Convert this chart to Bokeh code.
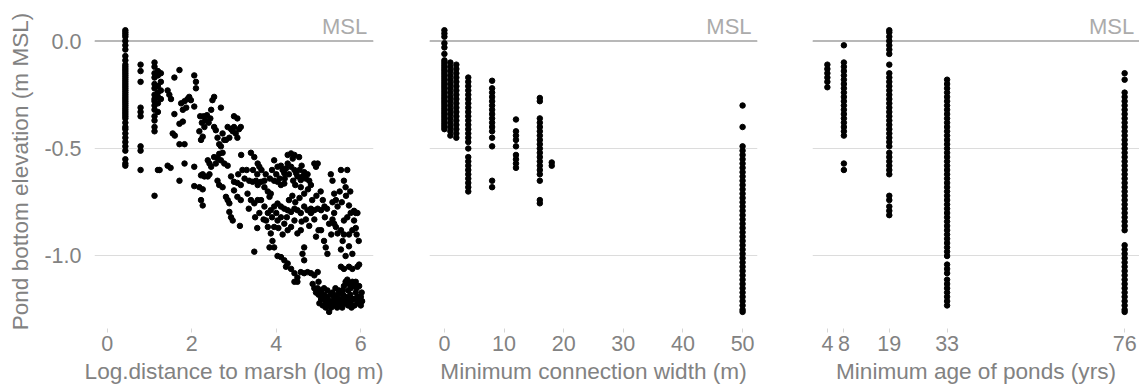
from bokeh.plotting import figure
from bokeh.layouts import row
from bokeh.models import Range1d, FixedTicker, PrintfTickFormatter, Span, Label
from bokeh.embed import file_html
from bokeh.resources import INLINE

# ---------------- Panel 1: log distance to marsh ----------------
col043_elev = [0.05, 0.04, 0.03, 0.02, 0.0, -0.02, -0.04, -0.07, -0.09, -0.11, -0.12, -0.13,
               -0.14, -0.15, -0.16, -0.17, -0.18, -0.19, -0.2, -0.21, -0.22, -0.23, -0.24,
               -0.25, -0.26, -0.27, -0.28, -0.29, -0.3, -0.31, -0.32, -0.33, -0.34, -0.35,
               -0.36, -0.38, -0.4, -0.41, -0.43, -0.45, -0.47, -0.49, -0.51, -0.55, -0.57, -0.58]
col079_elev = [-0.11, -0.14, -0.19, -0.31, -0.33, -0.35, -0.49, -0.51, -0.6]
col112_elev = [-0.1, -0.12, -0.15, -0.17, -0.2, -0.22, -0.25, -0.27, -0.28, -0.3, -0.32,
               -0.35, -0.37, -0.4, -0.42, -0.72]
col120_elev = [-0.14, -0.16, -0.21, -0.24, -0.26, -0.29, -0.33, -0.6]
col127_elev = [-0.15, -0.19, -0.23, -0.27]

dist_points = [
    (1.43, -0.23), (1.47, -0.25), (1.51, -0.27), (1.59, -0.17), (1.71, -0.135), (1.59, -0.34),
    (1.55, -0.43), (1.6, -0.44), (1.75, -0.29), (1.79, -0.32), (1.83, -0.28), (1.87, -0.31),
    (1.9, -0.27), (1.71, -0.385), (1.79, -0.375), (1.71, -0.48), (1.83, -0.48), (1.43, -0.58),
    (1.5, -0.59), (1.24, -0.6), (1.71, -0.65), (1.83, -0.57), (2.06, -0.16), (2.1, -0.19),
    (2.1, -0.22), (1.94, -0.26), (1.98, -0.275), (2.06, -0.305), (2.06, -0.585), (2.06, -0.675),
    (2.2, -0.35), (2.28, -0.35), (2.32, -0.37), (2.36, -0.345), (2.4, -0.38), (2.44, -0.36),
    (2.24, -0.38), (2.3, -0.4), (2.18, -0.42), (2.26, -0.445), (2.22, -0.46), (2.53, -0.26),
    (2.49, -0.275), (2.46, -0.32), (2.53, -0.4), (2.57, -0.415), (2.61, -0.45), (2.65, -0.48),
    (2.69, -0.31), (2.73, -0.43), (2.77, -0.46), (2.69, -0.49), (2.73, -0.52), (2.85, -0.4),
    (2.93, -0.41), (3.0, -0.4), (2.97, -0.42), (3.04, -0.43), (3.12, -0.41), (3.16, -0.4),
    (3.08, -0.45), (3.0, -0.35), (3.08, -0.36), (2.89, -0.45), (2.81, -0.46),
    (2.26, -0.62), (2.3, -0.63), (2.22, -0.625), (2.38, -0.555), (2.42, -0.57), (2.46, -0.585),
    (2.53, -0.54), (2.61, -0.545), (2.57, -0.57), (2.65, -0.525), (2.69, -0.555), (2.77, -0.57),
    (2.85, -0.58), (2.18, -0.68), (2.26, -0.69), (2.22, -0.74), (2.26, -0.765), (2.42, -0.62),
    (2.38, -0.63), (2.61, -0.65), (2.65, -0.67), (2.73, -0.68), (2.81, -0.725), (2.85, -0.74),
    (2.89, -0.755), (2.93, -0.63), (3.0, -0.655), (3.08, -0.66), (3.16, -0.67), (2.89, -0.795),
    (2.93, -0.82), (2.97, -0.835), (3.14, -0.86), (3.17, -0.53), (3.0, -0.695), (3.08, -0.725),
    (3.16, -0.74),
    (3.4, -0.52), (3.48, -0.54), (3.56, -0.57), (3.6, -0.585), (3.36, -0.65), (3.44, -0.655),
    (3.52, -0.65), (3.56, -0.67), (3.64, -0.655), (3.72, -0.65), (3.32, -0.71), (3.4, -0.74),
    (3.48, -0.755), (3.56, -0.74), (3.48, -0.98), (3.72, -0.68), (3.8, -0.7), (3.84, -0.725),
    (3.87, -0.71), (3.95, -0.555), (4.03, -0.585), (4.11, -0.58), (4.15, -0.6), (4.19, -0.615),
    (4.23, -0.593), (4.27, -0.57), (4.35, -0.585), (4.39, -0.547), (4.43, -0.6), (4.47, -0.615),
    (4.5, -0.63), (4.58, -0.647), (4.62, -0.63), (4.66, -0.61), (3.95, -0.65), (4.03, -0.655),
    (4.11, -0.67), (4.19, -0.663), (4.27, -0.53), (4.35, -0.523), (4.43, -0.53), (4.54, -0.54),
    (3.64, -0.74), (3.72, -0.77), (3.8, -0.8), (3.87, -0.787), (3.95, -0.77), (4.03, -0.756),
    (4.11, -0.77), (4.19, -0.78), (4.27, -0.787), (4.35, -0.795), (4.43, -0.78), (4.5, -0.787),
    (4.58, -0.8), (4.66, -0.77), (4.74, -0.787), (4.82, -0.78), (4.9, -0.787), (4.98, -0.78),
    (5.06, -0.787), (3.76, -0.835), (3.8, -0.865), (3.87, -0.895), (3.91, -0.93), (3.84, -0.96),
    (3.95, -0.96), (3.95, -0.865), (4.03, -0.835), (4.11, -0.82), (4.19, -0.85), (4.27, -0.88),
    (4.35, -0.865), (4.43, -0.835), (4.5, -0.895), (4.58, -0.88),
    (3.1, -0.62), (3.2, -0.6), (3.25, -0.64), (3.3, -0.6), (3.45, -0.6), (3.55, -0.62),
    (3.65, -0.6), (3.75, -0.62), (3.85, -0.64), (3.9, -0.6), (4.0, -0.62), (4.08, -0.64),
    (4.2, -0.64), (4.3, -0.62), (4.4, -0.65), (4.45, -0.67), (4.55, -0.6), (4.6, -0.58),
    (4.7, -0.64), (4.75, -0.69), (3.6, -0.8), (3.7, -0.83), (3.9, -0.82), (4.0, -0.8),
    (4.05, -0.87), (4.15, -0.9), (4.25, -0.82), (4.3, -0.74), (4.38, -0.72), (4.45, -0.75),
    (4.55, -0.73), (4.6, -0.84), (4.7, -0.83), (4.78, -0.86), (4.85, -0.74), (4.95, -0.72),
    (5.05, -0.7), (5.15, -0.82), (5.25, -0.85), (5.3, -0.9), (5.5, -0.7), (5.55, -0.75),
    (5.65, -0.72), (5.75, -0.7), (5.9, -0.9), (5.95, -0.93), (3.35, -0.78), (3.5, -0.82),
    (3.55, -0.87),
    (4.03, -1.0), (4.11, -1.005), (4.19, -1.02), (4.27, -1.035), (4.23, -1.05), (4.35, -1.06),
    (4.43, -1.08), (4.5, -1.1), (4.66, -0.96), (4.62, -0.99), (4.66, -1.02), (4.43, -1.12),
    (4.5, -1.12), (4.58, -1.075), (4.66, -1.08), (4.74, -1.075), (4.82, -1.08), (4.9, -1.09),
    (4.98, -1.075),
    (4.74, -0.62), (4.78, -0.65), (4.82, -0.67), (4.9, -0.57), (4.94, -0.585), (4.98, -0.57),
    (4.58, -0.68), (4.66, -0.71), (4.82, -0.8), (4.9, -0.83), (5.0, -0.88), (4.94, -0.91),
    (5.06, -0.88), (5.13, -0.93), (5.17, -0.96), (5.21, -0.99), (5.29, -0.62), (5.33, -0.65),
    (5.37, -0.71), (5.41, -0.74), (5.45, -0.77), (5.37, -0.8), (5.53, -0.6), (5.6, -0.65),
    (5.68, -0.6), (5.64, -0.68), (5.33, -0.83), (5.37, -0.85), (5.41, -0.865), (5.45, -0.895),
    (5.53, -0.88), (5.6, -0.835), (5.68, -0.82), (5.76, -0.8), (5.84, -0.835), (5.72, -0.765),
    (5.84, -0.79), (5.88, -0.8), (5.92, -0.8), (5.33, -0.75), (5.1, -0.74), (5.14, -0.77),
    (5.2, -0.78),
    (5.53, -0.97), (5.64, -1.0), (5.72, -0.955), (5.8, -0.99), (5.57, -0.93), (5.6, -0.9),
    (5.72, -0.9), (5.8, -0.88), (5.88, -0.87), (5.96, -1.04), (5.92, -1.05), (5.53, -1.05),
    (5.6, -1.06), (5.72, -1.05), (5.8, -1.06),
    (4.98, -1.15), (5.06, -1.16), (5.13, -1.18), (5.21, -1.2), (5.29, -1.21), (5.0, -1.18),
    (4.94, -1.17), (5.1, -1.2), (5.17, -1.22), (5.25, -1.23), (5.25, -1.26), (5.33, -1.22),
    (5.41, -1.2), (5.45, -1.18), (5.5, -1.17), (5.53, -1.2), (5.57, -1.16), (5.6, -1.14),
    (5.64, -1.12), (5.68, -1.11), (5.72, -1.13), (5.76, -1.15), (5.8, -1.12), (5.84, -1.14),
    (5.88, -1.17), (5.92, -1.19), (5.96, -1.2), (6.0, -1.19), (6.03, -1.21), (6.0, -1.23),
    (5.96, -1.22), (5.84, -1.2), (5.8, -1.2), (5.76, -1.22), (5.72, -1.21), (5.68, -1.2),
    (5.64, -1.19), (5.6, -1.22), (5.53, -1.22), (5.45, -1.21), (5.37, -1.19), (5.33, -1.17),
    (5.29, -1.18), (5.21, -1.16), (5.13, -1.15), (5.06, -1.2), (5.02, -1.22), (5.1, -1.23),
    (5.17, -1.24), (5.3, -1.24), (5.4, -1.23), (5.5, -1.23), (5.65, -1.22), (5.75, -1.18),
    (5.85, -1.23), (5.92, -1.22), (6.02, -1.17), (5.96, -1.14), (5.88, -1.12), (5.9, -1.15),
    (5.7, -1.16), (5.58, -1.18), (5.48, -1.16), (5.4, -1.15), (5.0, -1.12), (4.9, -1.15),
    (4.86, -1.13), (5.36, -1.21), (5.44, -1.24), (5.56, -1.24), (5.62, -1.2), (5.7, -1.23),
    (5.78, -1.24), (5.2, -1.19), (5.08, -1.18),
]

# ---------------- Panel 2: minimum connection width ----------------
w0_elev = [0.05, 0.035, 0.02, -0.01, -0.03, -0.06, -0.09, -0.1, -0.11, -0.12, -0.13, -0.14,
           -0.15, -0.16, -0.17, -0.18, -0.19, -0.2, -0.21, -0.22, -0.23, -0.24, -0.25, -0.26,
           -0.27, -0.28, -0.29, -0.3, -0.31, -0.32, -0.33, -0.34, -0.35, -0.36, -0.37, -0.38,
           -0.39, -0.4, -0.41]
w1_elev = [-0.1, -0.12, -0.14, -0.16, -0.18, -0.2, -0.22, -0.24, -0.26, -0.28, -0.3, -0.32,
           -0.34, -0.36, -0.38, -0.4, -0.42, -0.44]
w2_elev = [-0.11, -0.13, -0.15, -0.17, -0.19, -0.21, -0.23, -0.25, -0.27, -0.29, -0.31, -0.33,
           -0.35, -0.37, -0.39, -0.41, -0.43, -0.45]
w4_elev = [-0.17, -0.19, -0.21, -0.23, -0.25, -0.27, -0.29, -0.31, -0.33, -0.35, -0.37, -0.39,
           -0.41, -0.43, -0.45, -0.47, -0.5, -0.54, -0.56, -0.58, -0.6, -0.62, -0.64, -0.66,
           -0.68, -0.7]
w8_elev = [-0.185, -0.22, -0.24, -0.26, -0.28, -0.3, -0.32, -0.34, -0.36, -0.38, -0.4, -0.42,
           -0.45, -0.49, -0.65, -0.68]
w12_elev = [-0.365, -0.42, -0.44, -0.46, -0.49, -0.53, -0.55, -0.57, -0.59]
w16_elev = [-0.265, -0.28, -0.36, -0.38, -0.4, -0.42, -0.44, -0.46, -0.48, -0.5, -0.52, -0.54,
            -0.56, -0.58, -0.6, -0.62, -0.65, -0.74, -0.755]
w18_elev = [-0.565, -0.58]
w50_elev = [-0.3, -0.4, -0.49, -0.51, -0.53, -0.55, -0.57, -0.59, -0.61, -0.63, -0.65, -0.67,
            -0.69, -0.71, -0.73, -0.75, -0.77, -0.79, -0.81, -0.83, -0.85, -0.87, -0.89, -0.91,
            -0.93, -0.95, -0.97, -0.99, -1.01, -1.03, -1.05, -1.07, -1.09, -1.11, -1.13, -1.15,
            -1.17, -1.19, -1.21, -1.23, -1.25, -1.26]
width_values = [0, 1, 2, 4, 8, 12, 16, 18, 50]
width_elevs = [w0_elev, w1_elev, w2_elev, w4_elev, w8_elev, w12_elev, w16_elev, w18_elev, w50_elev]

# ---------------- Panel 3: minimum age of ponds ----------------
a4_elev = [-0.11, -0.13, -0.15, -0.17, -0.19, -0.215]
a8_elev = [-0.02, -0.1, -0.12, -0.14, -0.16, -0.18, -0.2, -0.22, -0.24, -0.26, -0.28, -0.3,
           -0.32, -0.34, -0.36, -0.38, -0.4, -0.42, -0.44, -0.57, -0.6]
a19_elev = [0.05, 0.04, 0.02, 0.0, -0.02, -0.04, -0.06, -0.11, -0.15, -0.17, -0.19, -0.21,
            -0.23, -0.25, -0.27, -0.29, -0.31, -0.33, -0.35, -0.37, -0.39, -0.41, -0.43, -0.45,
            -0.47, -0.49, -0.52, -0.54, -0.56, -0.58, -0.6, -0.62, -0.72, -0.74, -0.77, -0.79,
            -0.81]
a33_elev = [-0.18, -0.2, -0.22, -0.24, -0.26, -0.28, -0.3, -0.32, -0.34, -0.36, -0.38, -0.4,
            -0.42, -0.44, -0.46, -0.48, -0.5, -0.52, -0.54, -0.56, -0.58, -0.6, -0.62, -0.64,
            -0.66, -0.68, -0.7, -0.72, -0.74, -0.76, -0.78, -0.8, -0.82, -0.84, -0.86, -0.88,
            -0.9, -0.92, -0.94, -0.96, -0.98, -1.0, -1.04, -1.06, -1.08, -1.11, -1.13, -1.15,
            -1.17, -1.19, -1.21, -1.23]
a76_elev = [-0.15, -0.18, -0.24, -0.26, -0.28, -0.3, -0.32, -0.34, -0.36, -0.38, -0.4, -0.42,
            -0.44, -0.46, -0.48, -0.5, -0.52, -0.54, -0.56, -0.58, -0.6, -0.62, -0.64, -0.66,
            -0.68, -0.7, -0.72, -0.74, -0.76, -0.78, -0.8, -0.82, -0.84, -0.86, -0.88, -0.95,
            -0.97, -0.99, -1.01, -1.03, -1.05, -1.07, -1.09, -1.11, -1.13, -1.15, -1.17, -1.19,
            -1.21, -1.23, -1.25, -1.26]
age_values = [4, 8, 19, 33, 76]
age_elevs = [a4_elev, a8_elev, a19_elev, a33_elev, a76_elev]

dist_ticks = [0, 2, 4, 6]
width_ticks = [0, 10, 20, 30, 40, 50]
age_ticks = [4, 8, 19, 33, 76]
y_ticks = [-1.0, -0.5, 0.0]

FONT = "Liberation Sans"
TEXT_COL = "#828282"
FIG_H = 390
TOP = 16
FRAME_H = 310


def flatten(values, elevs):
    xs, ys = [], []
    for v, e in zip(values, elevs):
        xs += [v] * len(e)
        ys += list(e)
    return xs, ys


def make_fig(width, left, right, xr, xticks, xlabel, show_y, msl_x):
    p = figure(width=width, height=FIG_H, x_range=Range1d(*xr),
               y_range=Range1d(-1.328, 0.114), output_backend="svg",
               toolbar_location=None, min_border_left=left, min_border_right=right,
               min_border_top=TOP, min_border_bottom=FIG_H - TOP - FRAME_H)
    p.outline_line_color = None
    p.background_fill_color = "white"
    p.xgrid.visible = False
    p.ygrid.ticker = FixedTicker(ticks=y_ticks)
    p.ygrid.grid_line_color = "#dcdcdc"
    p.ygrid.grid_line_width = 1
    p.yaxis.ticker = FixedTicker(ticks=y_ticks)
    p.yaxis.formatter = PrintfTickFormatter(format="%.1f")
    p.xaxis.ticker = FixedTicker(ticks=xticks)
    for ax in p.xaxis + p.yaxis:
        ax.axis_line_color = None
        ax.minor_tick_line_color = None
        ax.major_label_text_font = FONT
        ax.major_label_text_font_size = "21.5px"
        ax.major_label_text_color = TEXT_COL
        ax.axis_label_text_font = FONT
        ax.axis_label_text_font_size = "22.6px"
        ax.axis_label_text_font_style = "normal"
        ax.axis_label_text_color = TEXT_COL
    p.xaxis.major_tick_line_color = "#d6d6d6"
    p.xaxis.major_tick_in = -2
    p.xaxis.major_tick_out = 6
    p.xaxis.major_label_standoff = 3
    p.xaxis.axis_label_standoff = 5
    p.xaxis.axis_label = xlabel
    p.yaxis.major_tick_line_color = None
    p.yaxis.major_tick_in = 0
    p.yaxis.major_tick_out = 0
    p.yaxis.major_label_standoff = 13
    p.yaxis.axis_label_standoff = 8
    if show_y:
        p.yaxis.axis_label = "Pond bottom elevation (m MSL)"
    else:
        p.yaxis.visible = False
    zero = Span(location=0, dimension="width", line_color="#b8b8b8", line_width=2,
                level="underlay")
    p.add_layout(zero)
    msl = Label(x=msl_x, y=0.008, text="MSL", text_align="right", text_baseline="bottom",
                text_font=FONT, text_font_size="22px", text_color="#ababab")
    p.add_layout(msl)
    return p


x1 = [0.43] * len(col043_elev) + [0.79] * len(col079_elev) + [1.12] * len(col112_elev) \
    + [1.2] * len(col120_elev) + [1.27] * len(col127_elev) + [pt[0] for pt in dist_points]
y1 = col043_elev + col079_elev + col112_elev + col120_elev + col127_elev + [pt[1] for pt in dist_points]
p1 = make_fig(386, 94, 13, (-0.3, 6.3), dist_ticks, "Log.distance to marsh (log m)", True, 6.15)
p1.scatter(x1, y1, size=5.5, color="black", marker="circle")

x2, y2 = flatten(width_values, width_elevs)
p2 = make_fig(374, 43, 3, (-2.5, 52.5), width_ticks, "Minimum connection width (m)", False, 51.5)
p2.scatter(x2, y2, size=5.5, color="black", marker="circle")

x3, y3 = flatten(age_values, age_elevs)
p3 = make_fig(379, 52, 0, (0.4, 79.6), age_ticks, "Minimum age of ponds (yrs)", False, 78.3)
p3.scatter(x3, y3, size=5.5, color="black", marker="circle")

layout = row(p1, p2, p3)
open("out.html", "w").write(file_html(layout, INLINE))
